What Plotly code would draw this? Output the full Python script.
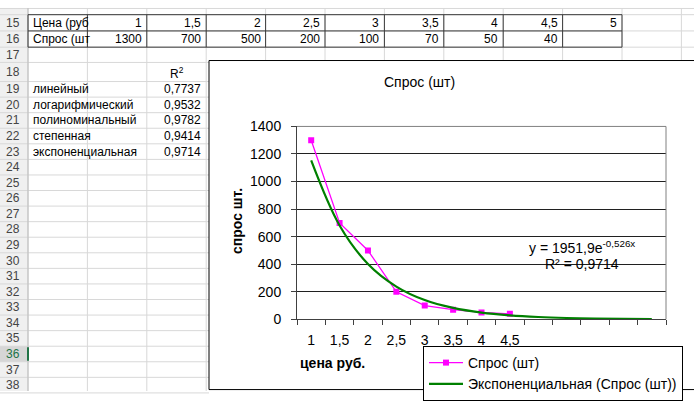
import plotly.graph_objects as go

W, H = 694, 401

# ---- data ----
price_labels = ["1", "1,5", "2", "2,5", "3", "3,5", "4", "4,5", "5"]
demand = [1300, 700, 500, 200, 100, 70, 50, 40]
# exponential trendline (8 points + 5 forecast periods)
trend_values = [1153, 681, 402, 238, 140, 83, 49, 29, 17, 10, 6, 3, 2]
fit_names = ["линейный", "логарифмический", "полиноминальный", "степенная", "экспоненциальная"]
fit_r2 = ["0,7737", "0,9532", "0,9782", "0,9414", "0,9714"]
y_ticks = [0, 200, 400, 600, 800, 1000, 1200, 1400]
row_numbers = list(range(15, 39))
active_row = 36

FONT = "Liberation Sans, Arial, sans-serif"


def px(x):
    return x / W


def py(y):
    return 1 - y / H


# ---- spreadsheet geometry ----
col_x = [28 + 59.4 * k for k in range(12)]
row_y = [7, 24, 41, 57, 77] + [77 + 16.3 * k for k in range(1, 21)]
CHART_L, CHART_T = 209, 55

shapes = []
annotations = []

# row header background
shapes.append(dict(type="rect", xref="paper", yref="paper", layer="below",
                   x0=0, x1=px(28), y0=0, y1=1, fillcolor="#F0F0F0", line_width=0))
ai = row_numbers.index(active_row)
shapes.append(dict(type="rect", xref="paper", yref="paper", layer="below",
                   x0=0, x1=px(28), y0=py(row_y[ai + 1]), y1=py(row_y[ai]),
                   fillcolor="#D6D6D6", line_width=0))

# light grid lines
for yb in row_y + [0.5]:
    x_end = W if yb < CHART_T else CHART_L
    shapes.append(dict(type="line", xref="paper", yref="paper", layer="below",
                       x0=0, x1=px(x_end), y0=py(yb), y1=py(yb),
                       line=dict(color="#D8D8D8", width=1)))
for xb in col_x:
    y_end = H if xb < CHART_L else CHART_T
    shapes.append(dict(type="line", xref="paper", yref="paper", layer="below",
                       x0=px(xb), x1=px(xb), y0=1, y1=py(y_end),
                       line=dict(color="#D8D8D8", width=1)))
shapes.append(dict(type="line", xref="paper", yref="paper", layer="below",
                   x0=px(28), x1=px(28), y0=0, y1=1,
                   line=dict(color="#BDBDBD", width=1)))
# active-row marker
shapes.append(dict(type="line", xref="paper", yref="paper", layer="below",
                   x0=px(28), x1=px(28), y0=py(row_y[ai + 1] - 1), y1=py(row_y[ai] + 1),
                   line=dict(color="#217346", width=2)))

# table dark borders (rows 15-16)
for yb in row_y[:3]:
    shapes.append(dict(type="line", xref="paper", yref="paper", layer="below",
                       x0=px(28), x1=px(col_x[10]), y0=py(yb), y1=py(yb),
                       line=dict(color="#3A3A3A", width=1)))
for xb in col_x[:11]:
    shapes.append(dict(type="line", xref="paper", yref="paper", layer="below",
                       x0=px(xb), x1=px(xb), y0=py(row_y[0]), y1=py(row_y[2]),
                       line=dict(color="#3A3A3A", width=1)))

# chart area box
shapes.append(dict(type="rect", xref="paper", yref="paper", layer="below",
                   x0=px(CHART_L), x1=px(705), y0=py(399.5), y1=py(CHART_T),
                   fillcolor="white", line=dict(color="black", width=1)))

# plot area top / right border
PL, PR, PT, PB = 297, 666, 124, 326
shapes.append(dict(type="line", xref="paper", yref="paper", layer="above",
                   x0=px(PL), x1=px(PR), y0=py(PT), y1=py(PT),
                   line=dict(color="#808080", width=1)))
shapes.append(dict(type="line", xref="paper", yref="paper", layer="above",
                   x0=px(PR), x1=px(PR), y0=py(PT), y1=py(PB),
                   line=dict(color="#808080", width=1)))


def cell_text(text, x, y, anchor="left", color="black", size=12):
    annotations.append(dict(text=text, x=px(x), y=py(y), xref="paper", yref="paper",
                            xanchor=anchor, yanchor="middle", showarrow=False,
                            font=dict(family=FONT, size=size, color=color)))


def row_center(r):
    i = row_numbers.index(r)
    return (row_y[i] + row_y[i + 1]) / 2


# row numbers
for r in row_numbers:
    cell_text(str(r), 13, row_center(r), anchor="center",
              color="#217346" if r == active_row else "#444444")

# rows 15 / 16
cell_text("Цена (руб", 31, row_center(15))
cell_text("Спрос (шт", 31, row_center(16))
for k, lab in enumerate(price_labels):
    cell_text(lab, col_x[k + 2] - 3, row_center(15), anchor="right")
for k, v in enumerate(demand):
    cell_text(str(v), col_x[k + 2] - 3, row_center(16), anchor="right")

# R² table
cell_text("R<sup>2</sup>", (col_x[2] + col_x[3]) / 2, row_center(18) + 1, anchor="center")
for k, (name, val) in enumerate(zip(fit_names, fit_r2)):
    cell_text(name, 31, row_center(19 + k))
    cell_text(val, col_x[3] - 3, row_center(19 + k), anchor="right")

# chart texts
cell_text("Спрос (шт)", 419, 78, anchor="center", size=14)
annotations.append(dict(text="<b>спрос шт.</b>", x=px(237), y=py(223), xref="paper", yref="paper",
                        textangle=-90, showarrow=False, xanchor="center", yanchor="middle",
                        font=dict(family=FONT, size=14, color="black")))
cell_text("<b>цена руб.</b>", 332, 372, anchor="center", size=14)
cell_text("y = 1951,9e<sup>-0,526x</sup>", 582, 250, anchor="center", size=14)
cell_text("R² = 0,9714", 582, 268, anchor="center", size=14)

# ---- traces ----
x_data = list(range(1, len(demand) + 1))
x_trend = list(range(1, len(trend_values) + 1))

fig = go.Figure()
fig.add_trace(go.Scatter(x=x_data, y=demand, mode="lines+markers", name="Спрос (шт)",
                         line=dict(color="#FF00FF", width=1.3),
                         marker=dict(symbol="square", size=6, color="#FF00FF")))
fig.add_trace(go.Scatter(x=x_trend, y=trend_values, mode="lines",
                         name="Экспоненциальная (Спрос (шт))",
                         line=dict(color="#008000", width=2.2, shape="spline")))

n_cat = len(trend_values)
fig.update_layout(
    width=W, height=H, autosize=False,
    margin=dict(l=0, r=0, t=0, b=0),
    paper_bgcolor="white", plot_bgcolor="#C0C0C0",
    font=dict(family=FONT, size=14, color="black"),
    shapes=shapes, annotations=annotations,
    showlegend=True,
    legend=dict(x=px(423), y=py(354), xanchor="left", yanchor="top",
                bgcolor="white", bordercolor="black", borderwidth=1,
                font=dict(family=FONT, size=14, color="black"),
                tracegroupgap=0, itemwidth=34),
    xaxis=dict(domain=[px(PL), px(PR)], range=[0.5, n_cat + 0.5],
               tickmode="array", tickvals=x_data,
               ticktext=price_labels[:len(demand)],
               ticks="outside", ticklen=1, tickcolor="rgba(0,0,0,0)",
               showgrid=False, zeroline=False,
               showline=True, linecolor="#404040", linewidth=1,
               ticklabelstandoff=7,
               minor=dict(tickmode="array",
                          tickvals=[k + 0.5 for k in range(n_cat + 1)],
                          ticks="outside", ticklen=5, tickcolor="#404040",
                          showgrid=False),
               fixedrange=True),
    yaxis=dict(domain=[py(PB), py(PT)], range=[0, 1400],
               tickmode="array", tickvals=y_ticks,
               ticks="outside", ticklen=5, tickcolor="#404040",
               showgrid=True, gridcolor="#202020", gridwidth=1,
               zeroline=False, showline=True, linecolor="#404040", linewidth=1,
               ticklabelstandoff=7, fixedrange=True),
)

fig.write_html("out.html", config={"displayModeBar": False},
               post_script="document.body.style.margin='0';document.body.style.overflow='hidden';")
